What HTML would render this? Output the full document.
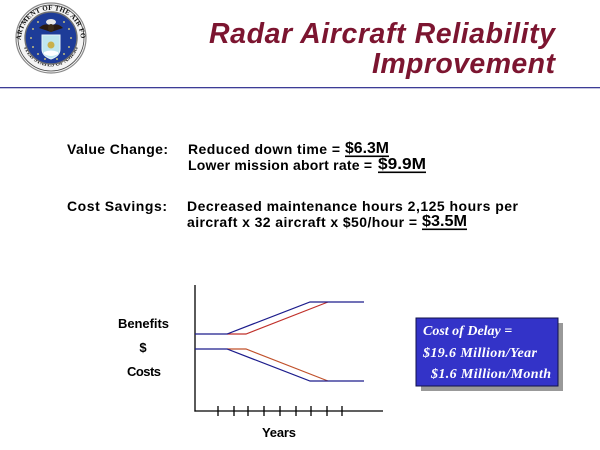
<!DOCTYPE html>
<html>
<head>
<meta charset="utf-8">
<style>
html,body{margin:0;padding:0;background:#fff;}
svg{display:block;}
</style>
</head>
<body>
<svg width="600" height="450" viewBox="0 0 600 450" xmlns="http://www.w3.org/2000/svg">
  <rect width="600" height="450" fill="#fff"/>

  <!-- Logo -->
  <defs>
    <path id="topArc" d="M 21 40 A 30 30 0 0 1 81 40"/>
    <path id="botArc" d="M 24 47 A 28.5 28.5 0 0 0 78 47"/>
  </defs>
  <circle cx="51" cy="38" r="35" fill="#f4f4f4" stroke="#8a8a8a" stroke-width="1.2"/>
  <circle cx="51" cy="38" r="33" fill="none" stroke="#444" stroke-width="0.8"/>
  <text font-family="Liberation Serif, serif" font-weight="bold" font-size="7" fill="#111" letter-spacing="0.2"><textPath href="#topArc" startOffset="50%" text-anchor="middle">DEPARTMENT OF THE AIR FORCE</textPath></text>
  <text font-family="Liberation Serif, serif" font-weight="bold" font-size="6" fill="#111"><textPath href="#botArc" startOffset="50%" text-anchor="middle">UNITED STATES OF AMERICA</textPath></text>
  <circle cx="51" cy="38" r="26" fill="#1e3c98" stroke="#707070" stroke-width="1.4"/>
  <g fill="#f2e27a">
    <circle cx="31" cy="38" r="0.9"/><circle cx="71" cy="38" r="0.9"/>
    <circle cx="33" cy="29" r="0.9"/><circle cx="69" cy="29" r="0.9"/>
    <circle cx="33" cy="47" r="0.9"/><circle cx="69" cy="47" r="0.9"/>
    <circle cx="38" cy="22" r="0.9"/><circle cx="64" cy="22" r="0.9"/>
    <circle cx="38" cy="54" r="0.9"/><circle cx="64" cy="54" r="0.9"/>
    <circle cx="45" cy="59" r="0.9"/><circle cx="57" cy="59" r="0.9"/>
  </g>
  <!-- eagle -->
  <ellipse cx="51" cy="22" rx="5" ry="3" fill="#e8e8e8"/>
  <path d="M39 28 Q45 22 51 26 Q57 22 63 28 Q57 30 51 32 Q45 30 39 28 Z" fill="#2a1a10"/>
  <ellipse cx="51" cy="28" rx="3" ry="4" fill="#3a2a18"/>
  <!-- shield -->
  <path d="M42 35 L60 35 L60 49 Q60 56 51 59 Q42 56 42 49 Z" fill="#bfe6ef" stroke="#e8f4f8" stroke-width="1"/>
  <circle cx="51" cy="45" r="3.5" fill="#c9b04a"/>
  <path d="M44 52 Q51 49 58 52 L58 54 Q51 58 44 54 Z" fill="#ffffff"/>

  <!-- Title -->
  <g font-family="Liberation Sans, sans-serif" font-weight="bold" font-style="italic" font-size="28.5" fill="#7c1530">
    <text x="209" y="43" textLength="346" lengthAdjust="spacing">Radar Aircraft Reliability</text>
    <text x="372" y="73" textLength="183" lengthAdjust="spacing">Improvement</text>
  </g>
  <rect x="0" y="87" width="600" height="1.3" fill="#3c3c96"/>

  <!-- Body text -->
  <g font-family="Liberation Sans, sans-serif" font-weight="bold" font-size="14" fill="#000">
    <text x="67" y="154" textLength="101" lengthAdjust="spacing">Value Change:</text>
    <text x="188" y="154" textLength="152" lengthAdjust="spacing">Reduced down time =</text>
    <text x="188" y="170" textLength="184" lengthAdjust="spacing">Lower mission abort rate =</text>
    <text x="67" y="211" textLength="100" lengthAdjust="spacing">Cost Savings:</text>
    <text x="187" y="211" textLength="331" lengthAdjust="spacing">Decreased maintenance hours 2,125 hours per</text>
    <text x="187" y="227" textLength="230" lengthAdjust="spacing">aircraft x 32 aircraft x $50/hour =</text>
  </g>
  <g font-family="Liberation Sans, sans-serif" font-weight="bold" font-size="16" fill="#000">
    <text x="345" y="153" textLength="44" lengthAdjust="spacingAndGlyphs">$6.3M</text>
    <text x="378" y="169" textLength="48" lengthAdjust="spacingAndGlyphs">$9.9M</text>
    <text x="422" y="226" textLength="45" lengthAdjust="spacingAndGlyphs">$3.5M</text>
  </g>
  <g fill="#000">
    <rect x="345" y="155.5" width="44" height="1.6"/>
    <rect x="378" y="171.5" width="48" height="1.6"/>
    <rect x="422" y="228.5" width="45" height="1.6"/>
  </g>

  <!-- Chart -->
  <g stroke="#000" stroke-width="1.3" fill="none">
    <line x1="195" y1="285" x2="195" y2="411.6"/>
    <line x1="194.4" y1="411" x2="383" y2="411"/>
    <line x1="218" y1="406" x2="218" y2="416"/>
    <line x1="234" y1="406" x2="234" y2="416"/>
    <line x1="248" y1="406" x2="248" y2="416"/>
    <line x1="264" y1="406" x2="264" y2="416"/>
    <line x1="280" y1="406" x2="280" y2="416"/>
    <line x1="296" y1="406" x2="296" y2="416"/>
    <line x1="311" y1="406" x2="311" y2="416"/>
    <line x1="327" y1="406" x2="327" y2="416"/>
    <line x1="342" y1="406" x2="342" y2="416"/>
  </g>
  <g fill="none" stroke-width="1.2">
    <polyline points="227,334 246,334 328,302" stroke="#c0302a"/>
    <polyline points="227,349 246,349 328,381" stroke="#c0502a"/>
    <polyline points="195,334 227,334 310,302 364,302" stroke="#1c1c8c"/>
    <polyline points="195,349 227,349 310,381 364,381" stroke="#1c1c8c"/>
  </g>
  <g font-family="Liberation Sans, sans-serif" font-weight="bold" font-size="13" fill="#000">
    <text x="118" y="328" textLength="51" lengthAdjust="spacing">Benefits</text>
    <text x="143" y="352" text-anchor="middle">$</text>
    <text x="127" y="376" textLength="34" lengthAdjust="spacing">Costs</text>
    <text x="262" y="437" textLength="34" lengthAdjust="spacing">Years</text>
  </g>

  <!-- Cost of delay box -->
  <rect x="421" y="323" width="142" height="68" fill="#999"/>
  <rect x="416" y="318" width="142" height="68" fill="#3333c8" stroke="#10104a" stroke-width="1"/>
  <g font-family="Liberation Serif, serif" font-weight="bold" font-style="italic" font-size="14" fill="#fff">
    <text x="423" y="335">Cost of Delay  =</text>
    <text x="423" y="357" textLength="114" lengthAdjust="spacing">$19.6 Million/Year</text>
    <text x="431" y="378" textLength="120" lengthAdjust="spacing">$1.6 Million/Month</text>
  </g>
</svg>
</body>
</html>
